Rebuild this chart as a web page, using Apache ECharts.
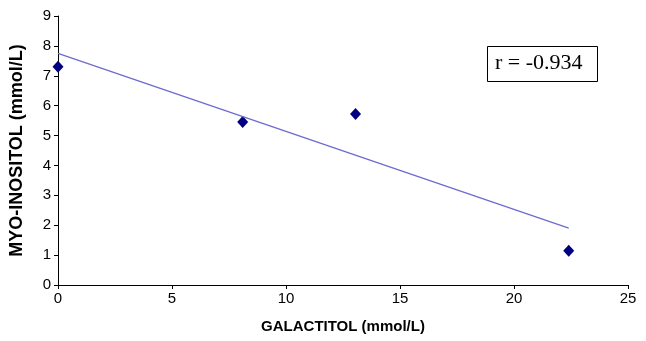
<!DOCTYPE html>
<html>
<head>
<meta charset="utf-8">
<script src="https://cdn.jsdelivr.net/npm/echarts@6/dist/echarts.min.js"></script>
<style>
  html, body { margin: 0; padding: 0; background: #fff; }
  #chart { width: 646px; height: 341px; }
</style>
</head>
<body>
<div id="chart"></div>
<script>
// measured points (galactitol, myo-inositol)
const galactitol = [0, 8.1, 13.05, 22.4];
const myoInositol = [7.3, 5.45, 5.72, 1.15];
// fitted line end points
const trendX = [0, 22.4];
const trendY = [7.75, 1.9];
const xTicks = [0, 5, 10, 15, 20, 25];
const yTicks = [0, 1, 2, 3, 4, 5, 6, 7, 8, 9];
const corrLabel = "r = -0.934";

const chart = echarts.init(document.getElementById("chart"));

const axisText = { color: "#000", fontFamily: "Liberation Sans, Arial", fontSize: 15 };

const option = {
  animation: false,
  grid: { left: 58, right: 18, top: 16, bottom: 56 },
  xAxis: {
    type: "value",
    min: xTicks[0],
    max: xTicks[xTicks.length - 1],
    interval: 5,
    name: "GALACTITOL (mmol/L)",
    nameLocation: "middle",
    nameGap: 34,
    nameTextStyle: { color: "#000", fontFamily: "Liberation Sans, Arial", fontSize: 15, fontWeight: "bold" },
    axisLine: { lineStyle: { color: "#000", width: 1 } },
    axisTick: { show: true, length: 4, lineStyle: { color: "#000" } },
    axisLabel: { ...axisText, margin: 6 },
    splitLine: { show: false },
  },
  yAxis: {
    type: "value",
    min: yTicks[0],
    max: yTicks[yTicks.length - 1],
    interval: 1,
    name: "MYO-INOSITOL (mmol/L)",
    nameLocation: "middle",
    nameGap: 32,
    nameTextStyle: { color: "#000", fontFamily: "Liberation Sans, Arial", fontSize: 18, fontWeight: "bold" },
    axisLine: { show: true, lineStyle: { color: "#000", width: 1 } },
    axisTick: { show: true, length: 4, lineStyle: { color: "#000" } },
    axisLabel: { ...axisText, margin: 7 },
    splitLine: { show: false },
  },
  series: [
    {
      name: "trend",
      type: "line",
      data: trendX.map((x, i) => [x, trendY[i]]),
      showSymbol: false,
      lineStyle: { color: "#6b6bd0", width: 1.3 },
      silent: true,
    },
    {
      name: "data",
      type: "scatter",
      symbol: "diamond",
      symbolSize: [11, 12],
      itemStyle: { color: "#000080", opacity: 1 },
      data: galactitol.map((x, i) => [x, myoInositol[i]]),
    },
  ],
  graphic: [
    {
      type: "rect",
      left: 487,
      top: 46,
      shape: { width: 110, height: 35 },
      style: { fill: "#fff", stroke: "#000", lineWidth: 1 },
    },
    {
      type: "text",
      left: 495,
      top: 52,
      style: {
        text: corrLabel,
        fill: "#000",
        font: "22px 'Liberation Serif', 'Times New Roman', serif",
      },
    },
  ],
};

chart.setOption(option);
</script>
</body>
</html>
